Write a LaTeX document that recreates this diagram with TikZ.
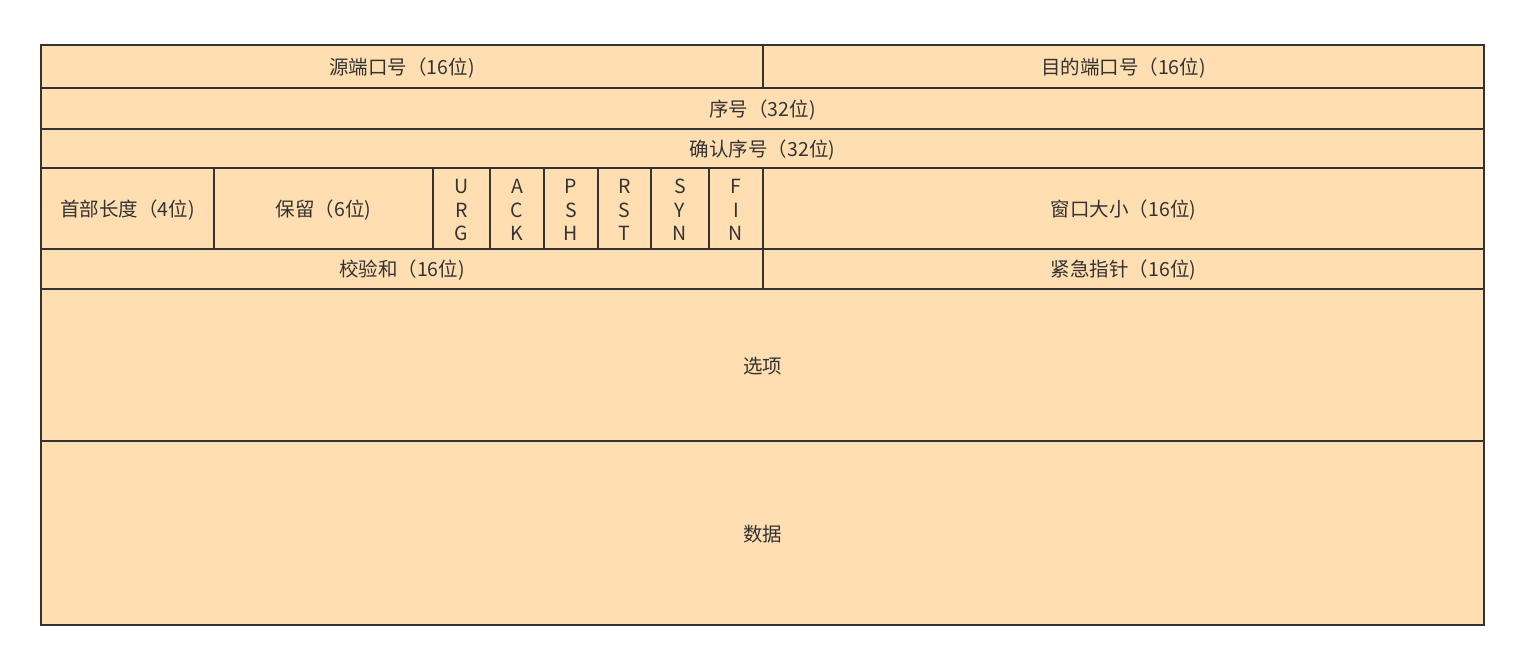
\documentclass[tikz,border=0pt]{standalone}
\usepackage{fontspec}
\setmainfont{Noto Sans CJK SC}
\definecolor{boxfill}{HTML}{FFDFB2}
\definecolor{boxline}{HTML}{333333}
\begin{document}
\begin{tikzpicture}[x=1pt,y=-1pt,
  cell/.style={draw=boxline,fill=boxfill,line width=2.9pt},
  lbl/.style={text=boxline,font=\fontsize{19.5}{23.5}\selectfont,align=center,inner sep=0pt},
]
\useasboundingbox (0,0) rectangle (1531,645);
\def\cellbox#1#2#3#4#5#6{%
  \draw[cell] (#2,#3) rectangle (#4,#5);
  \node[lbl] (#1) at ({(#2+#4)/2},{(#3+#5)/2+1.5}) {#6};}
\cellbox{src}{41}{45}{763}{88}{源端口号（16位)}
\cellbox{dst}{763}{45}{1484}{88}{目的端口号（16位)}
\cellbox{seq}{41}{88}{1484}{129}{序号（32位)}
\cellbox{ack}{41}{129}{1484}{168}{确认序号（32位)}
\cellbox{hlen}{41}{168}{214}{249}{首部长度（4位)}
\cellbox{res}{214}{168}{433}{249}{保留（6位)}
\cellbox{urg}{433}{168}{490}{249}{U\\R\\G}
\cellbox{ackf}{490}{168}{544}{249}{A\\C\\K}
\cellbox{psh}{544}{168}{598}{249}{P\\S\\H}
\cellbox{rst}{598}{168}{651}{249}{R\\S\\T}
\cellbox{syn}{651}{168}{709}{249}{S\\Y\\N}
\cellbox{fin}{709}{168}{763}{249}{F\\I\\N}
\cellbox{win}{763}{168}{1484}{249}{窗口大小（16位)}
\cellbox{chk}{41}{249}{763}{289}{校验和（16位)}
\cellbox{urgp}{763}{249}{1484}{289}{紧急指针（16位)}
\cellbox{opt}{41}{289}{1484}{441}{选项}
\cellbox{data}{41}{441}{1484}{625}{数据}
\end{tikzpicture}
\end{document}
